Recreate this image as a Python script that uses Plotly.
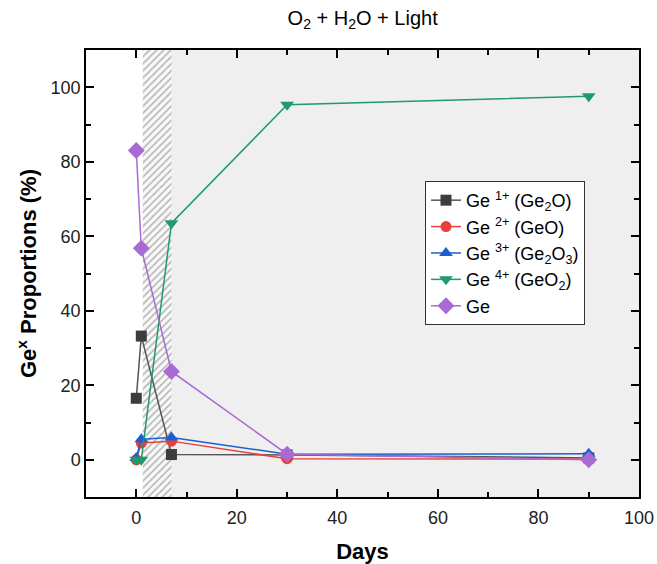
import plotly.graph_objects as go

# Exposure time (days)
days = [0, 1, 7, 30, 90]

# Proportion of each germanium oxidation state (%)
ge1 = [16.5, 33.2, 1.4, 1.3, 0.5]
ge2 = [0.0, 4.5, 5.0, 0.3, 0.2]
ge3 = [0.5, 5.5, 6.0, 1.5, 1.6]
ge4 = [0.0, 0.0, 63.5, 95.3, 97.6]
ge0 = [83.0, 56.8, 23.7, 1.5, 0.0]

series_names = [
    "Ge <sup>1+</sup> (Ge<sub>2</sub>O)",
    "Ge <sup>2+</sup> (GeO)",
    "Ge <sup>3+</sup> (Ge<sub>2</sub>O<sub>3</sub>)",
    "Ge <sup>4+</sup> (GeO<sub>2</sub>)",
    "Ge",
]

# Hatched transition window and axis limits
hatch_x = [1.3, 7.0]
x_range = [-10, 100]
y_range = [-10, 110]

FONT = "Liberation Sans, Arial, sans-serif"
colors = ["#3d3d3d", "#e8403b", "#1b5fcf", "#1f9a68", "#a96ad3"]
line_colors = ["#555555", "#e8403b", "#1b5fcf", "#1f9a68", "#a96ad3"]
symbols = ["square", "circle", "triangle-up", "triangle-down", "diamond"]
sizes = [11, 11, 12, 12, 13]

fig = go.Figure()

# Hatched band
fig.add_trace(go.Scatter(
    x=[hatch_x[0], hatch_x[1], hatch_x[1], hatch_x[0], hatch_x[0]],
    y=[y_range[0], y_range[0], y_range[1], y_range[1], y_range[0]],
    mode="lines", fill="toself", line=dict(width=0),
    fillcolor="rgba(0,0,0,0)",
    fillpattern=dict(shape="/", fgcolor="#6e6e6e", bgcolor="#f8f8f8",
                     size=5, solidity=0.3),
    showlegend=False, hoverinfo="skip",
))

for name, vals, c, lc, s, sz in zip(series_names, [ge1, ge2, ge3, ge4, ge0],
                                    colors, line_colors, symbols, sizes):
    fig.add_trace(go.Scatter(
        x=days, y=vals, name=name, mode="lines+markers",
        line=dict(color=lc, width=1.5),
        marker=dict(symbol=s, size=sz, color=c),
    ))

# White area before the band, grey after it
fig.add_shape(type="rect", xref="x", yref="y", layer="below",
              x0=x_range[0], x1=hatch_x[0], y0=y_range[0], y1=y_range[1],
              fillcolor="white", line=dict(width=0))

axis_common = dict(
    showgrid=False, zeroline=False, showline=True, linecolor="black",
    linewidth=1.5, mirror="allticks", ticks="inside", ticklen=8,
    tickwidth=1.5, tickcolor="black", automargin=False,
    tickfont=dict(family=FONT, size=18, color="#222"),
)

fig.update_xaxes(
    range=x_range, tick0=0, dtick=20, ticklabelstandoff=4,
    minor=dict(ticks="inside", ticklen=5, dtick=10, tick0=0,
               tickcolor="black", tickwidth=1.5),
    title=dict(text="<b>Days</b>", standoff=18,
               font=dict(family=FONT, size=22, color="black")),
    **axis_common,
)
fig.update_yaxes(
    range=y_range, tick0=0, dtick=20,
    minor=dict(ticks="inside", ticklen=5, dtick=10, tick0=0,
               tickcolor="black", tickwidth=1.5),
    title=dict(text="<b>Ge<sup>x</sup> Proportions (%)</b>", standoff=8,
               font=dict(family=FONT, size=22, color="black")),
    **axis_common,
)

fig.update_layout(
    width=657, height=564,
    margin=dict(l=86, r=18, t=50, b=67, autoexpand=False),
    paper_bgcolor="white",
    plot_bgcolor="#efefef",
    title=dict(text="O<sub>2</sub> + H<sub>2</sub>O + Light",
               x=0.552, xanchor="center", y=0.968, yanchor="middle",
               font=dict(family=FONT, size=20, color="black")),
    legend=dict(x=0.613, y=0.707, xanchor="left", yanchor="top",
                bgcolor="white", bordercolor="#333", borderwidth=1,
                font=dict(family=FONT, size=18, color="black"),
                tracegroupgap=0, itemwidth=30),
    showlegend=True,
)

fig.write_html("out.html")
